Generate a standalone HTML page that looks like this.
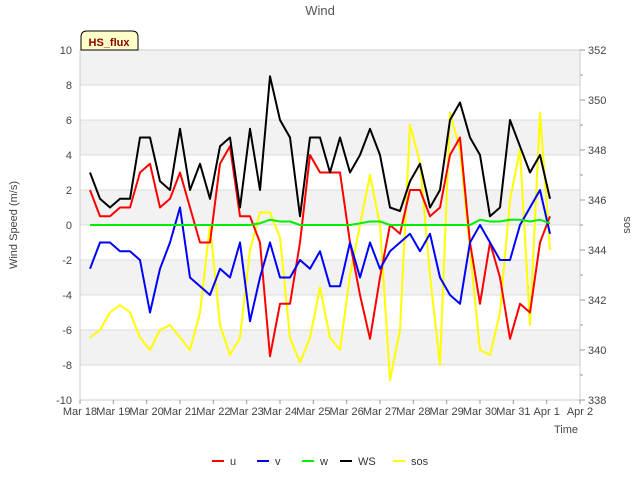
<!DOCTYPE html>
<html><head><meta charset="utf-8"><style>
body{margin:0;background:#fff;font-family:"Liberation Sans","DejaVu Sans",sans-serif}
</style></head><body>
<svg id="c" width="640" height="480" xmlns="http://www.w3.org/2000/svg" font-family="Liberation Sans, DejaVu Sans, sans-serif">
<rect width="640" height="480" fill="#fff"/>
<text x="320" y="15" text-anchor="middle" font-size="13" fill="#555">Wind</text>
<g id="bands"></g>
<g id="axes"></g>
<g id="series"></g>
<g>
<path d="M81,50 V37 Q81,31 87,31 H132 Q138,31 138,37 V50 Z" fill="#ffffc8" stroke="#000" stroke-width="1"/>
<text x="109" y="46" text-anchor="middle" font-size="11" font-weight="bold" fill="#8b0000">HS_flux</text>
</g>
<text transform="translate(17,225) rotate(-90)" text-anchor="middle" font-size="11" fill="#444">Wind Speed (m/s)</text>
<text transform="translate(630,225) rotate(-90)" text-anchor="middle" font-size="11" fill="#444">sos</text>
<text x="578" y="433" text-anchor="end" font-size="11" fill="#444">Time</text>
<g id="legend"></g>
</svg>
<script>
const xTickLabels=["Mar 18","Mar 19","Mar 20","Mar 21","Mar 22","Mar 23","Mar 24","Mar 25","Mar 26","Mar 27","Mar 28","Mar 29","Mar 30","Mar 31","Apr 1","Apr 2"];
const yTicks=[-10,-8,-6,-4,-2,0,2,4,6,8,10];
const y2Ticks=[338,340,342,344,346,348,350,352];
const times=[0.3,0.6,0.9,1.2,1.5,1.8,2.1,2.4,2.7,3.0,3.3,3.6,3.9,4.2,4.5,4.8,5.1,5.4,5.7,6.0,6.3,6.6,6.9,7.2,7.5,7.8,8.1,8.4,8.7,9.0,9.3,9.6,9.9,10.2,10.5,10.8,11.1,11.4,11.7,12.0,12.3,12.6,12.9,13.2,13.5,13.8,14.1];
const uVals=[2,0.5,0.5,1,1,3,3.5,1,1.5,3,1,-1,-1,3.5,4.5,0.5,0.5,-1,-7.5,-4.5,-4.5,-1,4,3,3,3,-1,-4,-6.5,-3,0,-0.5,2,2,0.5,1,4,5,-1,-4.5,-1,-3,-6.5,-4.5,-5,-1,0.5];
const vVals=[-2.5,-1,-1,-1.5,-1.5,-2,-5,-2.5,-1,1,-3,-3.5,-4,-2.5,-3,-1,-5.5,-3,-1,-3,-3,-2,-2.5,-1.5,-3.5,-3.5,-1,-3,-1,-2.5,-1.5,-1,-0.5,-1.5,-0.5,-3,-4,-4.5,-1,0,-1,-2,-2,0,1,2,-0.5];
const wVals=[0,0,0,0,0,0,0,0,0,0,0,0,0,0,0,0,0,0.1,0.3,0.2,0.2,0,0,0,0,0,0,0.1,0.2,0.2,0,0,0,0,0,0,0,0,0,0.3,0.2,0.2,0.3,0.3,0.2,0.3,0.1];
const wsVals=[3,1.5,1,1.5,1.5,5,5,2.5,2,5.5,2,3.5,1.5,4.5,5,1,5.5,2,8.5,6,5,0.5,5,5,3,5,3,4,5.5,4,1,0.8,2.5,3.5,1,2,6,7,5,4,0.5,1,6,4.5,3,4,1.5];
const sosVals=[340.5,340.8,341.5,341.8,341.5,340.5,340,340.8,341,340.5,340,341.5,345,341,339.8,340.5,344,345.5,345.5,344.5,340.5,339.5,340.5,342.5,340.5,340,343,345,347,345,338.8,340.8,349,347.5,343,339.4,349.5,348,344,340,339.8,341.5,346,348,341,349.5,344];
const NS="http://www.w3.org/2000/svg";
const L=80,R=580,T=50,B=400;
const xs=d=>L+(d)*(R-L)/15;
const ys=v=>T+(10-v)*(B-T)/20;
const ys2=v=>T+(352-v)*(B-T)/14;
function mk(tag,attrs,parent){const e=document.createElementNS(NS,tag);for(const k in attrs)e.setAttribute(k,attrs[k]);parent.appendChild(e);return e;}
const bands=document.getElementById('bands'),axes=document.getElementById('axes'),ser=document.getElementById('series'),leg=document.getElementById('legend');
mk('rect',{x:L,y:T,width:R-L,height:B-T,fill:'#fff'},bands);
for(let v=-8;v<=8;v+=4){const b=mk('rect',{x:L,y:ys(v+2),width:R-L,height:ys(v)-ys(v+2),fill:'#f2f2f2'},bands);

}
yTicks.forEach(v=>{mk('line',{x1:L,x2:R,y1:ys(v),y2:ys(v),stroke:'#dcdcdc','stroke-width':1},axes);
const t=mk('text',{x:L-8,y:ys(v)+4,'text-anchor':'end','font-size':11,fill:'#444'},axes);t.textContent=v;

});
mk('rect',{x:L,y:T,width:R-L,height:B-T,fill:'none',stroke:'#ccc'},axes);
xTickLabels.forEach((s,i)=>{const x=xs(i);mk('line',{x1:x,x2:x,y1:B,y2:B+4,stroke:'#999'},axes);
const t=mk('text',{x:x,y:B+15,'text-anchor':'middle','font-size':11,fill:'#444'},axes);t.textContent=s;

});
for(let v=338;v<=352;v++){const y=ys2(v);mk('line',{x1:R,x2:R+(v%2?3:5),y1:y,y2:y,stroke:'#999'},axes);}
y2Ticks.forEach(v=>{const t=mk('text',{x:R+8,y:ys2(v)+4,'font-size':11,fill:'#444'},axes);t.textContent=v;

});
function line(vals,sc,color,name){const d=vals.map((v,i)=>(i?'L':'M')+xs(times[i]).toFixed(1)+','+sc(v).toFixed(1)).join('');
const p=mk('path',{d:d,fill:'none',stroke:color,'stroke-width':2,'stroke-linejoin':'round'},ser);

}
line(sosVals,ys2,'#ffff00','sos-line');
line(uVals,ys,'#ff0000','u-line');
line(vVals,ys,'#0000ff','v-line');
line(wVals,ys,'#00ee00','w-line');
line(wsVals,ys,'#000000','ws-line');
const legItems=[["u","#ff0000",212],["v","#0000ff",257],["w","#00ee00",302],["WS","#000000",340],["sos","#ffff00",393]];
legItems.forEach(it=>{const g=mk('g',{},leg);


mk('line',{x1:it[2],x2:it[2]+12,y1:461,y2:461,stroke:it[1],'stroke-width':2},g);
const t=mk('text',{x:it[2]+18,y:465,'font-size':11,fill:'#333'},g);t.textContent=it[0];});
</script>
</body></html>
